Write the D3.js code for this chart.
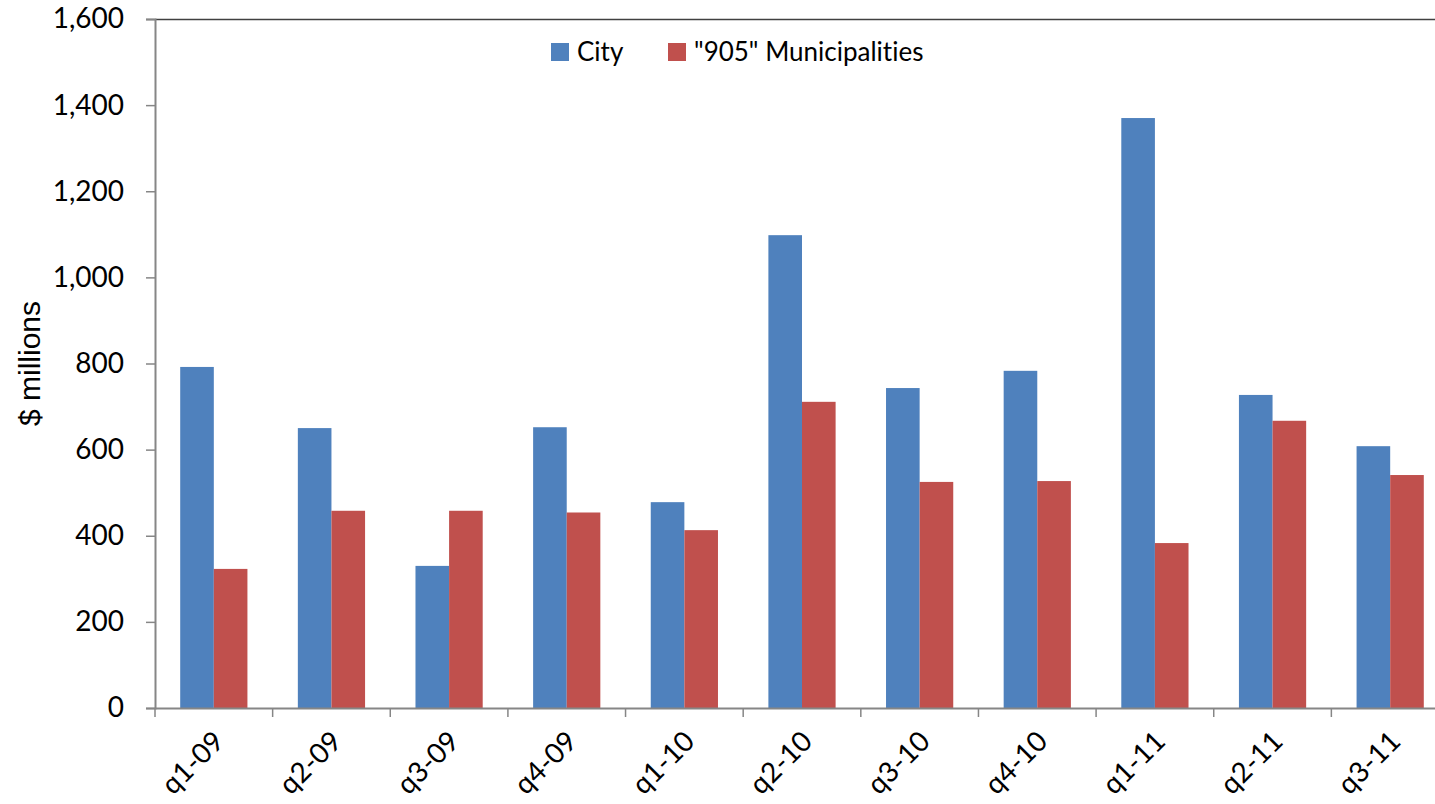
<!DOCTYPE html>
<html>
<head>
<meta charset="utf-8">
<script src="https://cdn.jsdelivr.net/npm/d3@7"></script>
<style>
    body { margin: 0; background: #fff; }
    svg text { font-family: Lato, "Open Sans", sans-serif; fill: #000; font-variant-ligatures: none; }
</style>
</head>
<body>
<svg id="chart" width="1435" height="804"></svg>
<script>
"use strict";

const quarters = ["q1-09", "q2-09", "q3-09", "q4-09", "q1-10", "q2-10", "q3-10", "q4-10", "q1-11", "q2-11", "q3-11"];
const cityValues = [792, 650, 330, 652, 478, 1098, 743, 783, 1370, 727, 608];
const muniValues = [323, 458, 458, 454, 413, 711, 525, 527, 383, 667, 541];
const seriesNames = ["City", "\"905\" Municipalities"];
const seriesColors = ["#4F81BD", "#C0504D"];
const yTicks = [0, 200, 400, 600, 800, 1000, 1200, 1400, 1600];

const svg = d3.select("#chart");
const margin = { top: 19, left: 155, bottom: 96 };
const plotRight = 1449;
const plotBottom = 804 - margin.bottom;

const x = d3.scaleBand().domain(quarters).range([margin.left, plotRight]).paddingInner(0).paddingOuter(0);
// Excel-style 150% gap width: band = 3.5 bar widths
const barW = x.bandwidth() / 3.5;
const inner = d3.scaleBand().domain([0, 1]).range([0.75 * barW, 2.75 * barW]);
const y = d3.scaleLinear().domain([0, 1600]).range([plotBottom, margin.top]);

// top border of plot area
svg.append("line")
    .attr("x1", margin.left).attr("x2", plotRight)
    .attr("y1", margin.top + 0.5).attr("y2", margin.top + 0.5)
    .attr("stroke", "#404040").attr("stroke-width", 1.5);

// bars
const rows = quarters.map((q, i) => ({ q: q, vals: [cityValues[i], muniValues[i]] }));
const groups = svg.selectAll(".grp").data(rows).enter()
    .append("g")
    .attr("class", "grp")
    .attr("transform", d => "translate(" + x(d.q) + ",0)");
groups.selectAll("rect")
    .data(d => d.vals.map((v, k) => ({ v: v, k: k })))
    .enter()
    .append("rect")
    .attr("x", d => inner(d.k))
    .attr("width", inner.bandwidth())
    .attr("y", d => y(d.v))
    .attr("height", d => plotBottom - y(d.v))
    .style("fill", d => seriesColors[d.k]);

// y axis
const yAxis = svg.append("g")
    .attr("transform", "translate(" + margin.left + ",0)")
    .call(d3.axisLeft(y).tickValues(yTicks).tickSize(9).tickPadding(22).tickFormat(d3.format(",")));
yAxis.select(".domain").attr("stroke", "#868686").attr("stroke-width", 2);
yAxis.selectAll(".tick line").attr("stroke", "#868686").attr("stroke-width", 1.5);
yAxis.selectAll("text").style("font-size", "28px");

// x axis
const xAxis = svg.append("g")
    .attr("transform", "translate(0," + plotBottom + ")")
    .call(d3.axisBottom(x).tickSize(0).tickFormat(""));
xAxis.select(".domain").attr("stroke", "#868686").attr("stroke-width", 2);
xAxis.selectAll(".tick").remove();
const boundaries = quarters.map(q => x(q));
xAxis.selectAll(".btick").data(boundaries).enter()
    .append("line")
    .attr("class", "btick")
    .attr("x1", d => d).attr("x2", d => d)
    .attr("y1", 0).attr("y2", 9)
    .attr("stroke", "#868686").attr("stroke-width", 1.5);
xAxis.selectAll(".xlab").data(quarters).enter()
    .append("text")
    .attr("class", "xlab")
    .attr("text-anchor", "end")
    .attr("transform", d => "translate(" + (x(d) + x.bandwidth() / 2 + 12) + ",35) rotate(-45)")
    .style("font-size", "28px")
    .text(d => d);

// y axis title
svg.append("text")
    .attr("transform", "translate(40," + ((margin.top + plotBottom) / 2) + ") rotate(-90)")
    .attr("text-anchor", "middle")
    .style("font-family", "'Liberation Sans', Arial, sans-serif")
    .style("font-size", "30px")
    .text("$ millions");

// legend
const legendX = [551, 668];
const legend = svg.selectAll(".legend").data(seriesNames).enter()
    .append("g")
    .attr("class", "legend")
    .attr("transform", (d, i) => "translate(" + legendX[i] + ",43)");
legend.append("rect")
    .attr("width", 18).attr("height", 18)
    .style("fill", (d, i) => seriesColors[i]);
legend.append("text")
    .attr("x", 26).attr("y", 18)
    .style("font-size", "26px")
    .text(d => d);
</script>
</body>
</html>
